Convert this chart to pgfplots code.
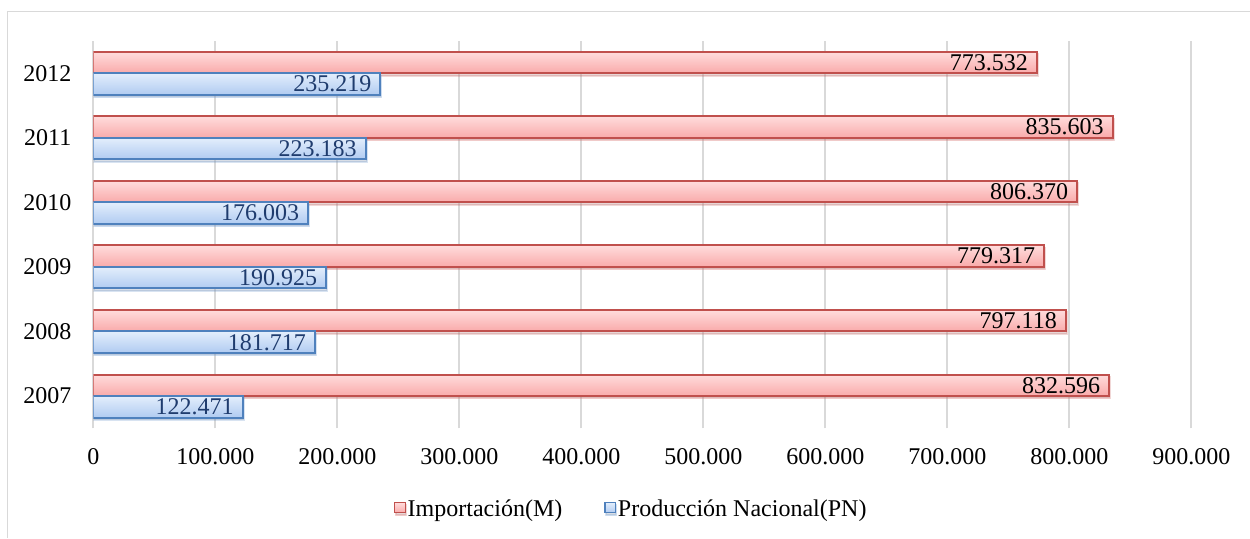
\documentclass[border=0pt,12pt]{standalone}
\usepackage{fontspec}
\setmainfont{Liberation Serif}
\usepackage{pgfplots}
\pgfplotsset{compat=1.18}
\usetikzlibrary{shadows}

\definecolor{gridgray}{HTML}{D9D9D9}
\definecolor{mEdge}{HTML}{C0504D}
\definecolor{mTop}{HTML}{FFDCDC}
\definecolor{mBot}{HTML}{F9AAAA}
\definecolor{pnEdge}{HTML}{4F81BD}
\definecolor{pnTop}{HTML}{E3EEFC}
\definecolor{pnBot}{HTML}{B0CBF1}
\definecolor{pnText}{HTML}{1F3C6E}

% each bar is its own plot so that the gradient runs across every single bar
\pgfplotsset{
  mbar/.style={draw=mEdge, line width=1pt, top color=mTop, bottom color=mBot,
    bar shift=0.1667,
    drop shadow={shadow xshift=0.5pt, shadow yshift=-1.2pt, opacity=0.22},
    nodes near coords style={text=black}},
  pnbar/.style={draw=pnEdge, line width=1pt, top color=pnTop, bottom color=pnBot,
    bar shift=-0.1667,
    drop shadow={shadow xshift=0.5pt, shadow yshift=-1.2pt, opacity=0.22},
    nodes near coords style={text=pnText}},
}

\begin{document}
\begin{tikzpicture}
\path[use as bounding box] (-46.65pt,-54.85pt) rectangle (578.35pt,214.15pt);
% chart area frame
\draw[gridgray, line width=0.8pt] (-42.9pt,-54.85pt) -- (-42.9pt,208.4pt) -- (578.35pt,208.4pt);
\begin{axis}[
  at={(0pt,0pt)}, anchor=south west,
  scale only axis,
  width=549pt, height=193.65pt,
  xbar,
  bar width=0.333,
  xmin=0, xmax=900000,
  ymin=-0.5, ymax=5.5,
  xtick={0,100000,...,900000},
  scaled x ticks=false,
  ytick={0,1,2,3,4,5},
  yticklabels={2007,2008,2009,2010,2011,2012},
  /pgf/number format/.cd, fixed, precision=0, 1000 sep={.}, assume math mode=true,
  /pgfplots/.cd,
  axis line style={draw=none},
  major tick length=0pt,
  xmajorgrids,
  grid style={gridgray, line width=0.8pt},
  xticklabel style={anchor=center, yshift=-14.3pt},
  yticklabel style={anchor=east, inner sep=0pt, xshift=-10.8pt},
  nodes near coords,
  nodes near coords style={anchor=east, xshift=-4pt, inner sep=0pt},
  legend columns=2,
  legend style={at={(0.4900,-0.212)}, anchor=center, draw=none, fill=none,
    /tikz/every even column/.append style={column sep=20pt},
    nodes={inner sep=1pt}},
  legend image code/.code={\draw[#1, line width=0.6pt] (0pt,-1.2pt) rectangle (5.2pt,4.0pt);},
]
% Importación (M)
\addplot[mbar] coordinates {(832596,0)};
\addlegendentry{Importación(M)}
% Producción Nacional (PN)
\addplot[pnbar] coordinates {(122471,0)};
\addlegendentry{Producción Nacional(PN)}

\addplot[mbar, forget plot] coordinates {(797118,1)};
\addplot[mbar, forget plot] coordinates {(779317,2)};
\addplot[mbar, forget plot] coordinates {(806370,3)};
\addplot[mbar, forget plot] coordinates {(835603,4)};
\addplot[mbar, forget plot] coordinates {(773532,5)};

\addplot[pnbar, forget plot] coordinates {(181717,1)};
\addplot[pnbar, forget plot] coordinates {(190925,2)};
\addplot[pnbar, forget plot] coordinates {(176003,3)};
\addplot[pnbar, forget plot] coordinates {(223183,4)};
\addplot[pnbar, forget plot] coordinates {(235219,5)};
\end{axis}
\end{tikzpicture}
\end{document}
